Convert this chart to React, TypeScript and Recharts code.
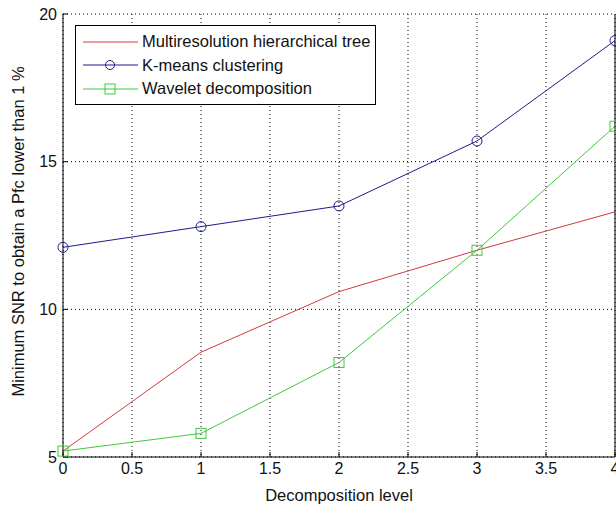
import React from "react";
import {
  LineChart,
  Line,
  XAxis,
  YAxis,
  CartesianGrid,
} from "recharts";

const levels = [0, 1, 2, 3, 4];
const multires = [5.2, 8.55, 10.6, 12.0, 13.3];
const kmeans = [12.1, 12.8, 13.5, 15.7, 19.1];
const wavelet = [5.2, 5.8, 8.2, 12.0, 16.2];

const xTicks = [0, 0.5, 1, 1.5, 2, 2.5, 3, 3.5, 4];
const yTicks = [5, 10, 15, 20];

const seriesNames = [
  "Multiresolution hierarchical tree",
  "K-means clustering",
  "Wavelet decomposition",
];

const RED = "#d23a3a";
const BLUE = "#1c1c8a";
const GREEN = "#3fc93f";
const FONT = "'Liberation Sans', Arial, Helvetica, sans-serif";

const data = levels.map((lv, i) => ({
  level: lv,
  multires: multires[i],
  kmeans: kmeans[i],
  wavelet: wavelet[i],
}));

function SquareDot(props: any) {
  const { cx, cy, index } = props;
  if (cx == null || cy == null) return null;
  return (
    <rect
      key={`sq-${index}`}
      x={cx - 5}
      y={cy - 5}
      width={10}
      height={10}
      fill="none"
      stroke={GREEN}
      strokeWidth={1}
    />
  );
}

// matlab style legend box, drawn over the plot
function LegendBox() {
  const colors = [RED, BLUE, GREEN];
  return (
    <div
      style={{
        position: "absolute",
        left: 75,
        top: 25,
        border: "1px solid #000",
        background: "#fff",
        width: 299,
        padding: "4px 0 3px 0",
        fontFamily: FONT,
        fontSize: 16.5,
        color: "#111",
      }}
    >
      {seriesNames.map((name, i) => (
        <div key={name} style={{ display: "flex", alignItems: "center", height: 23.5 }}>
          <svg width={64} height={16} style={{ flex: "none" }}>
            <line x1={7} y1={8} x2={62} y2={8} stroke={colors[i]} strokeWidth={1} />
            {i === 1 && <circle cx={34} cy={8} r={4.5} fill="none" stroke={BLUE} />}
            {i === 2 && (
              <rect x={29} y={3} width={10} height={10} fill="none" stroke={GREEN} />
            )}
          </svg>
          <span style={{ marginLeft: 2 }}>{name}</span>
        </div>
      ))}
    </div>
  );
}

export default function App() {
  return (
    <div style={{ position: "absolute", left: 0, top: 0, width: 616, height: 506, background: "#fff" }}>
      <LineChart
        width={616}
        height={506}
        data={data}
        margin={{ top: 14, right: 0, bottom: 9, left: 13 }}
      >
        <CartesianGrid
          xAxisId="bottom"
          yAxisId="left"
          stroke="#000"
          strokeDasharray="1 3"
        />
        <XAxis
          xAxisId="bottom"
          dataKey="level"
          type="number"
          domain={[0, 4]}
          ticks={xTicks}
          interval={0}
          height={40}
          tickSize={-5}
          tickMargin={11}
          stroke="#000"
          tick={{ fontSize: 16, fill: "#111", fontFamily: FONT }}
          label={{
            value: "Decomposition level",
            position: "center",
            dy: 18,
            style: { fontSize: 16.5, fill: "#111", fontFamily: FONT },
          }}
        />
        <XAxis
          xAxisId="top"
          orientation="top"
          dataKey="level"
          type="number"
          domain={[0, 4]}
          ticks={xTicks}
          height={0}
          tickSize={-5}
          stroke="#000"
          tickFormatter={() => ""}
        />
        <YAxis
          yAxisId="left"
          domain={[5, 20]}
          ticks={yTicks}
          width={50}
          tickSize={-5}
          tickMargin={11}
          stroke="#000"
          tick={{ fontSize: 16, fill: "#111", fontFamily: FONT }}
          label={{
            value: "Minimum SNR to obtain a Pfc lower than 1 %",
            angle: -90,
            position: "center",
            dx: -20,
            dy: -4,
            style: { fontSize: 16.5, fill: "#111", fontFamily: FONT, textAnchor: "middle" },
          }}
        />
        <YAxis
          yAxisId="right"
          orientation="right"
          domain={[5, 20]}
          ticks={yTicks}
          width={1}
          tickSize={-5}
          stroke="#000"
          tickFormatter={() => ""}
        />
        <Line
          xAxisId="bottom"
          yAxisId="left"
          type="linear"
          dataKey="multires"
          name={seriesNames[0]}
          stroke={RED}
          strokeWidth={1}
          dot={false}
          isAnimationActive={false}
        />
        <Line
          xAxisId="bottom"
          yAxisId="left"
          type="linear"
          dataKey="kmeans"
          name={seriesNames[1]}
          stroke={BLUE}
          strokeWidth={1}
          dot={{ r: 5, fill: "none", stroke: BLUE, strokeWidth: 1 }}
          isAnimationActive={false}
        />
        <Line
          xAxisId="bottom"
          yAxisId="left"
          type="linear"
          dataKey="wavelet"
          name={seriesNames[2]}
          stroke={GREEN}
          strokeWidth={1}
          dot={<SquareDot />}
          isAnimationActive={false}
        />
      </LineChart>
      <LegendBox />
    </div>
  );
}
